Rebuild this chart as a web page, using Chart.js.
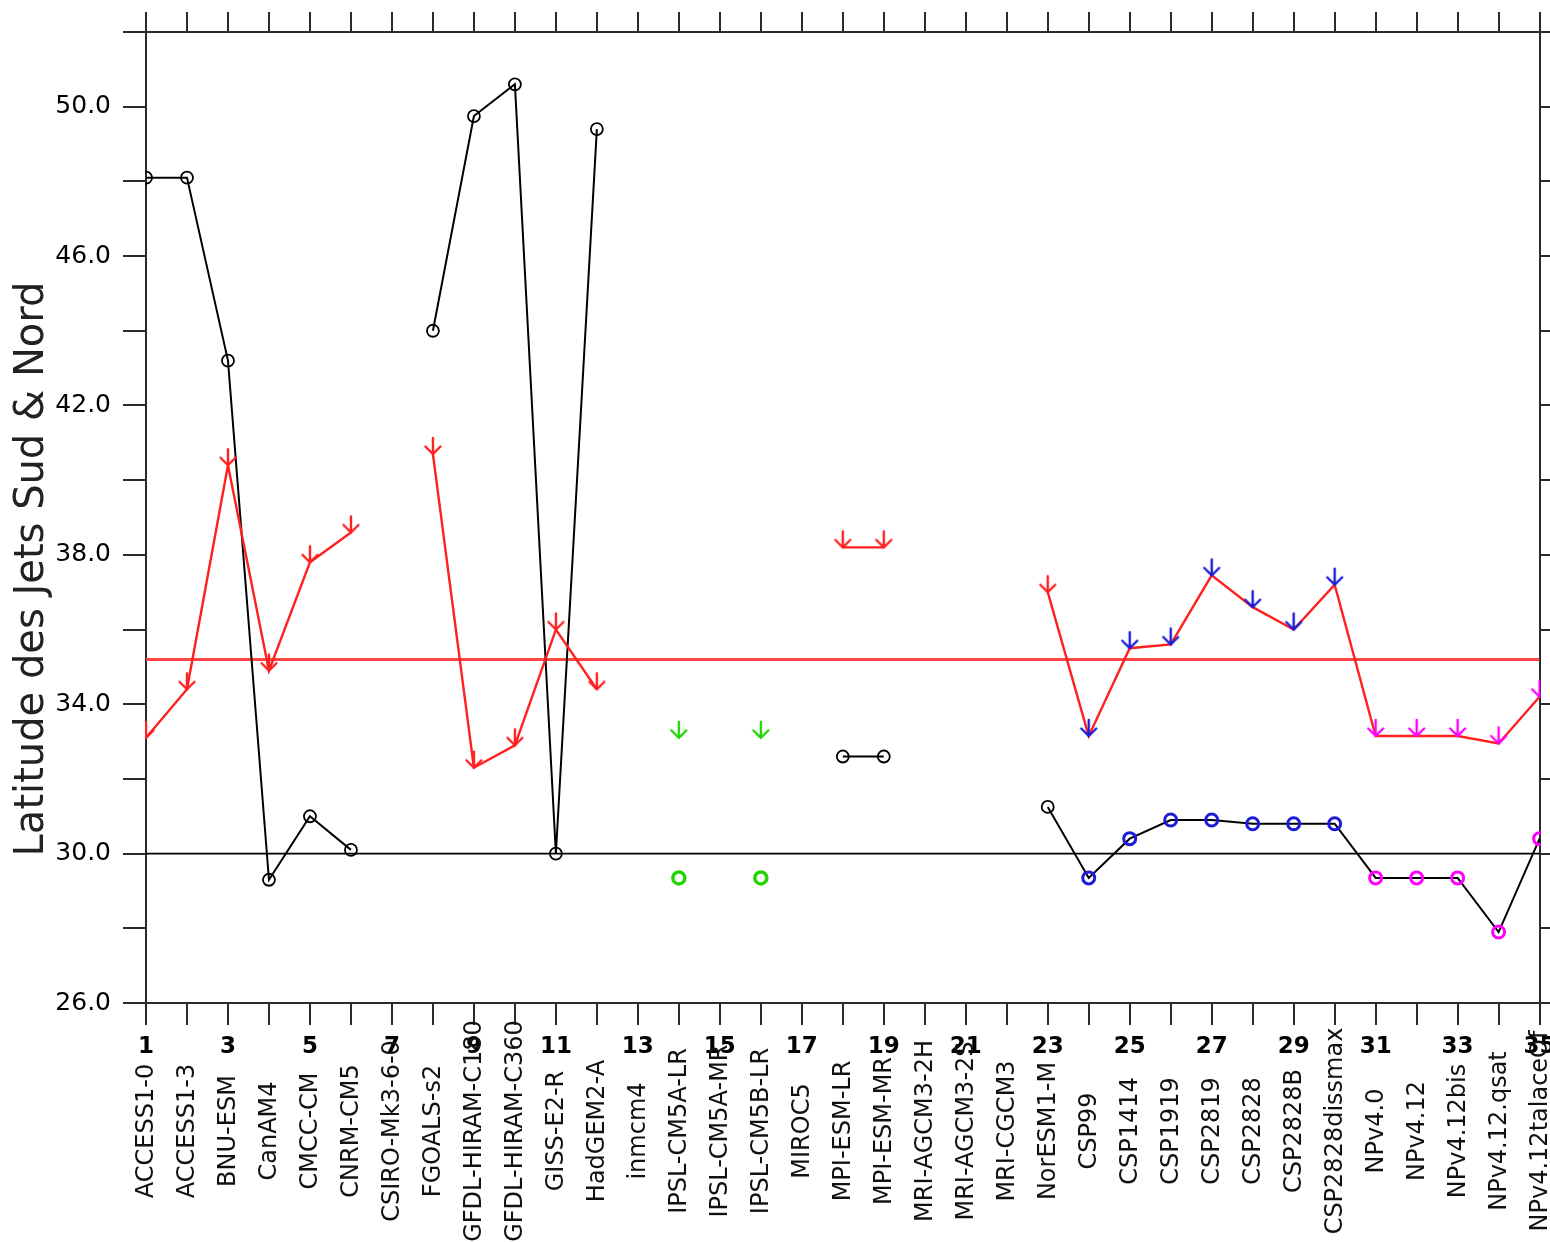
<!DOCTYPE html>
<html><head><meta charset="utf-8">
<script src="https://cdn.jsdelivr.net/npm/chart.js@4/dist/chart.umd.min.js"></script>
<style>html,body{margin:0;padding:0;background:#fff;}canvas{display:block;}</style>
</head><body>
<canvas id="c" width="1550" height="1242"></canvas>
<script>
// ---- data ----
const models = ["ACCESS1-0","ACCESS1-3","BNU-ESM","CanAM4","CMCC-CM","CNRM-CM5","CSIRO-Mk3-6-0","FGOALS-s2",
  "GFDL-HIRAM-C180","GFDL-HIRAM-C360","GISS-E2-R","HadGEM2-A","inmcm4","IPSL-CM5A-LR","IPSL-CM5A-MR",
  "IPSL-CM5B-LR","MIROC5","MPI-ESM-LR","MPI-ESM-MR","MRI-AGCM3-2H","MRI-AGCM3-2S","MRI-CGCM3","NorESM1-M",
  "CSP99","CSP1414","CSP1919","CSP2819","CSP2828","CSP2828B","CSP2828dissmax","NPv4.0","NPv4.12",
  "NPv4.12bis","NPv4.12.qsat","NPv4.12talaceOf"];
const jetNord = [48.1,48.1,43.2,29.3,31.0,30.1,null,44.0,49.75,50.6,30.0,49.4,null,29.35,null,29.35,null,
  32.6,32.6,null,null,null,31.25,29.35,30.4,30.9,30.9,30.8,30.8,30.8,29.35,29.35,29.35,27.9,30.4];
const jetSud = [33.1,34.4,40.4,34.9,37.8,38.6,null,40.7,32.3,32.9,36.0,34.4,null,33.1,null,33.1,null,
  38.2,38.2,null,null,null,37.0,33.15,35.5,35.6,37.45,36.6,36.0,37.2,33.15,33.15,33.15,32.95,34.2];
const refLat = 30.0;
const meanSud = 35.2;
const xNumberLabels = [1,3,5,7,9,11,13,15,17,19,21,23,25,27,29,31,33,35];
const yTickLabels = [26,30,34,38,42,46,50];
const yTitle = "Latitude des Jets Sud & Nord";

// ---- styles ----
const GREEN = "#22d400", BLUE = "#1c1cd8", MAGENTA = "#ff00ff", RED = "#ff2020", BLACK = "#000";
function markerColour(i, base) {
  const n = i + 1;
  if (n === 14 || n === 16) return GREEN;
  if (n >= 24 && n <= 30) return BLUE;
  if (n >= 31) return MAGENTA;
  return base;
}
function makeArrow(col) {
  const c = document.createElement('canvas'); c.width = 20; c.height = 40;
  const g = c.getContext('2d'); g.strokeStyle = col; g.lineWidth = 2.4; g.lineCap = 'round'; g.lineJoin = 'round';
  g.beginPath(); g.moveTo(10, 20); g.lineTo(10, 4);
  g.moveTo(2.5, 12.5); g.lineTo(10, 20); g.lineTo(17.5, 12.5); g.stroke();
  return c;
}
const arrows = {}; [GREEN, BLUE, MAGENTA, RED].forEach(c => arrows[c] = makeArrow(c));
const toXY = arr => arr.map((v, i) => ({x: i + 1, y: v}));

const textPlugin = {
  id: 'texts',
  afterDraw(chart) {
    const ctx = chart.ctx, xs = chart.scales.x;
    ctx.save();
    ctx.fillStyle = '#111'; ctx.font = '24px "DejaVu Sans"'; ctx.textAlign = 'center'; ctx.textBaseline = 'middle';
    models.forEach((m, i) => {
      const x = xs.getPixelForValue(i + 1);
      ctx.save(); ctx.translate(x + 1, xs.top + 128); ctx.rotate(-Math.PI / 2); ctx.fillText(m, 0, 0); ctx.restore();
    });
    ctx.font = '40px "DejaVu Sans"'; ctx.fillStyle = '#222';
    ctx.translate(33, 569); ctx.rotate(-Math.PI / 2); ctx.fillText(yTitle, 0, 0);
    ctx.restore();
  }
};

const AX = '#2a2a2a';
function fixSize(prop, val) {
  return s => { s[prop] = val; s.paddingLeft = 0; s.paddingRight = 0; s.paddingTop = 0; s.paddingBottom = 0; };
}

new Chart(document.getElementById('c'), {
  type: 'line',
  data: {
    datasets: [
      { data: [{x: 1, y: refLat}, {x: 35, y: refLat}], borderColor: BLACK, borderWidth: 1.6, pointRadius: 0, order: 10, xAxisID: 'x', yAxisID: 'y' },
      { data: [{x: 1, y: meanSud}, {x: 35, y: meanSud}], borderColor: 'rgba(255,70,70,1)', borderWidth: 3, pointRadius: 0, order: 9, xAxisID: 'x', yAxisID: 'y' },
      { data: toXY(jetNord), borderColor: BLACK, borderWidth: 2, spanGaps: false, order: 2, clip: 1,
        pointStyle: 'circle', pointRadius: 6,
        pointBorderColor: ctx => markerColour(ctx.dataIndex, BLACK),
        pointBorderWidth: ctx => markerColour(ctx.dataIndex, BLACK) === BLACK ? 1.8 : (markerColour(ctx.dataIndex, BLACK) === GREEN ? 3.5 : 3),
        pointBackgroundColor: 'rgba(0,0,0,0)', xAxisID: 'x', yAxisID: 'y' },
      { data: toXY(jetSud), borderColor: RED, borderWidth: 2.4, spanGaps: false, order: 1, clip: 1,
        pointStyle: ctx => arrows[markerColour(ctx.dataIndex, RED)], pointRadius: 8,
        xAxisID: 'x', yAxisID: 'y' }
    ]
  },
  options: {
    responsive: false, animation: false, devicePixelRatio: 1,
    layout: { padding: 0 },
    plugins: { legend: { display: false }, tooltip: { enabled: false } },
    elements: { line: { tension: 0 } },
    scales: {
      x: { type: 'linear', position: 'bottom', min: 1, max: 35,
        grid: { drawOnChartArea: false, drawTicks: true, tickLength: 22, color: AX, lineWidth: 2 },
        border: { display: true, color: AX, width: 2 },
        ticks: { stepSize: 1, autoSkip: false, maxRotation: 0, minRotation: 0, padding: 8, color: '#000',
          font: { family: 'DejaVu Sans', size: 23, weight: 'bold' },
          callback: v => xNumberLabels.includes(v) ? String(v) : '' },
        afterFit: fixSize('height', 239) },
      xTop: { type: 'linear', position: 'top', min: 1, max: 35,
        grid: { drawOnChartArea: false, drawTicks: true, tickLength: 20, color: AX, lineWidth: 2 },
        border: { display: true, color: AX, width: 2 },
        ticks: { stepSize: 1, autoSkip: false, display: false },
        afterFit: fixSize('height', 32) },
      y: { type: 'linear', position: 'left', min: 26, max: 52,
        grid: { drawOnChartArea: false, drawTicks: true, tickLength: 23, color: AX, lineWidth: 2 },
        border: { display: true, color: AX, width: 2 },
        ticks: { stepSize: 2, autoSkip: false, padding: 12, color: '#000',
          font: { family: 'DejaVu Sans', size: 25 },
          callback: v => yTickLabels.includes(v) ? v.toFixed(1) : '' },
        afterFit: fixSize('width', 146) },
      yRight: { type: 'linear', position: 'right', min: 26, max: 52,
        grid: { drawOnChartArea: false, drawTicks: true, tickLength: 12, color: AX, lineWidth: 2 },
        border: { display: true, color: AX, width: 2 },
        ticks: { stepSize: 2, autoSkip: false, display: false },
        afterFit: fixSize('width', 9) }
    }
  },
  plugins: [textPlugin]
});
</script>
</body></html>
